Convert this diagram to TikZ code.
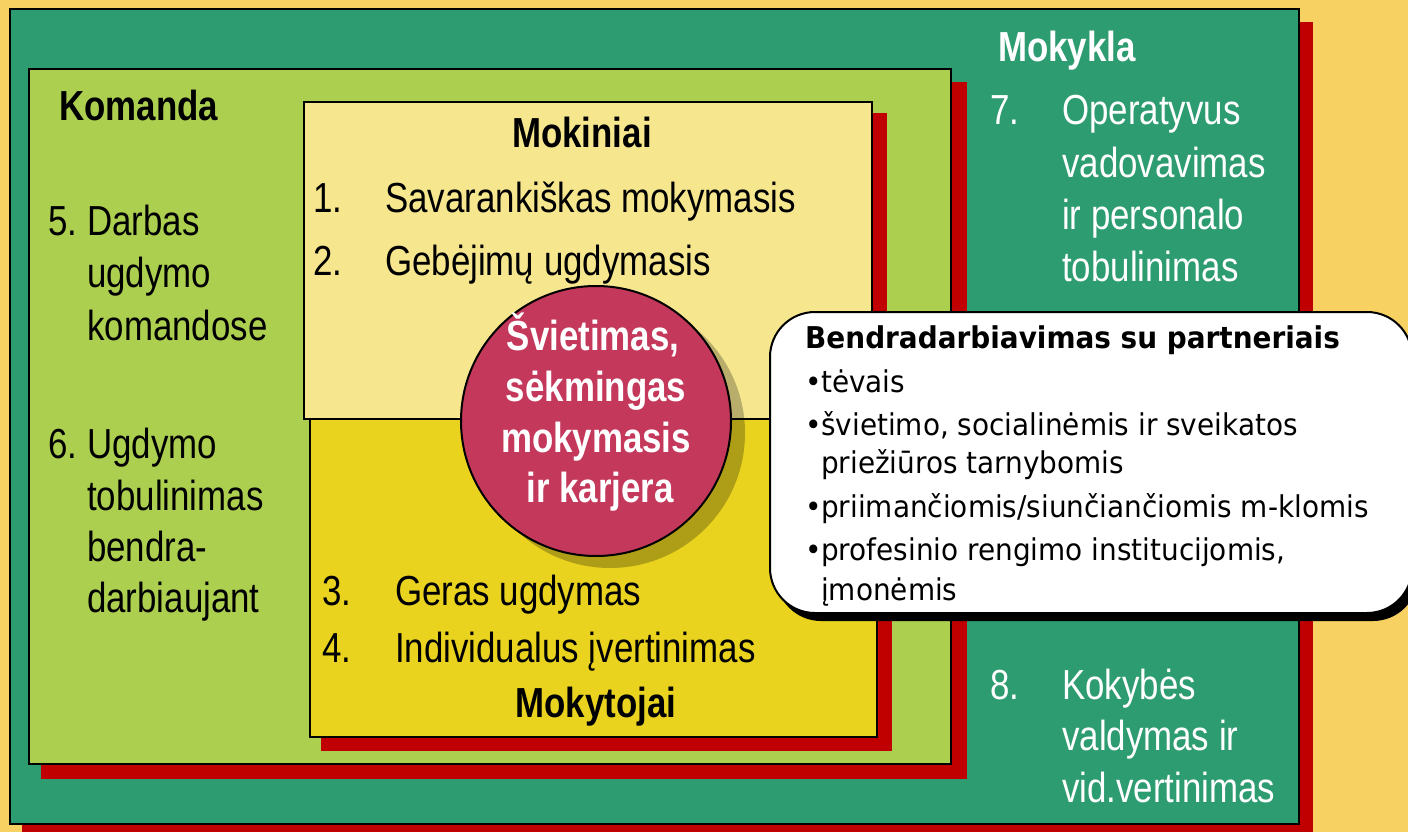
\documentclass[tikz,border=0pt]{standalone}
\usepackage{fontspec}
\setmainfont{Liberation Sans}[FakeStretch=0.83]
\newfontfamily\boxfont{DejaVu Sans}[FakeStretch=0.93]
\definecolor{bgc}{HTML}{F7D161}
\definecolor{dgreen}{HTML}{2E9C71}
\definecolor{lgreen}{HTML}{ACCF50}
\definecolor{pyellow}{HTML}{F6E78F}
\definecolor{dyellow}{HTML}{E9D31F}
\definecolor{shred}{HTML}{C00000}
\definecolor{crimson}{HTML}{C4385B}
\tikzset{
  frame/.style={draw=black, line width=2pt},
  txt/.style={anchor=base west, inner sep=0pt, font=\fontsize{42}{50}\selectfont},
  ttl/.style={anchor=base, inner sep=0pt, font=\fontsize{42}{50}\selectfont\bfseries},
  ctxt/.style={anchor=base, inner sep=0pt, text=white, font=\fontsize{42}{50}\selectfont\bfseries},
  btxt/.style={anchor=base west, inner sep=0pt, font=\boxfont\fontsize{30}{36}\selectfont},
  bttl/.style={anchor=base west, inner sep=0pt, font=\boxfont\bfseries\fontsize{30}{36}\selectfont},
}
\begin{document}
\begin{tikzpicture}[x=1pt,y=-1pt]
\useasboundingbox (0,0) rectangle (1408,832);
\fill[bgc] (0,0) rectangle (1408,832);
% Mokykla
\fill[shred] (22,22) rectangle (1313,840);
\draw[frame, fill=dgreen] (9.5,9.5) rectangle (1299,824);
% Komanda
\fill[shred] (41,82) rectangle (967,779);
\draw[frame, fill=lgreen] (29,69) rectangle (951,764);
% Mokiniai
\fill[shred] (318,113) rectangle (887,432);
\draw[frame, fill=pyellow] (304,102) rectangle (872,419);
% Mokytojai
\fill[shred] (321,432) rectangle (892,751);
\draw[frame, fill=dyellow] (310,419) rectangle (877,737);
% circle
\fill[black, opacity=0.25] (610,433) circle (135);
\draw[frame, fill=crimson] (596,421) circle (135);
% partner box
\fill[black, rounded corners=45] (776,320) rectangle (1418,621);
\draw[frame, fill=white, rounded corners=45] (770,312) rectangle (1412,613);

% texts: Mokykla
\node[txt, text=white, font=\fontsize{42}{50}\selectfont\bfseries] (mokykla) at (998,62) {Mokykla};
\node[txt, text=white] (n7) at (990,125) {7.};
\node[txt, text=white] (t7a) at (1062,125) {Operatyvus};
\node[txt, text=white] (t7b) at (1062,177) {vadovavimas};
\node[txt, text=white] (t7c) at (1062,229) {ir personalo};
\node[txt, text=white] (t7d) at (1062,281) {tobulinimas};
\node[txt, text=white] (n8) at (990,699) {8.};
\node[txt, text=white] (t8a) at (1062,699) {Kokybės};
\node[txt, text=white] (t8b) at (1062,750) {valdymas ir};
\node[txt, text=white] (t8c) at (1062,802) {vid.vertinimas};

% Komanda
\node[txt, font=\fontsize{42}{50}\selectfont\bfseries] (komanda) at (59,121) {Komanda};
\node[txt] (n5) at (48,235) {5.};
\node[txt] (t5a) at (87,235) {Darbas};
\node[txt] (t5b) at (87,287) {ugdymo};
\node[txt] (t5c) at (87,340) {komandose};
\node[txt] (n6) at (48,458) {6.};
\node[txt] (t6a) at (87,458) {Ugdymo};
\node[txt] (t6b) at (87,510) {tobulinimas};
\node[txt] (t6c) at (87,561) {bendra-};
\node[txt] (t6d) at (87,612) {darbiaujant};

% Mokiniai
\node[ttl] (mokiniai) at (582,148) {Mokiniai};
\node[txt] (n1) at (313,212) {1.};
\node[txt] (t1) at (385,212) {Savarankiškas mokymasis};
\node[txt] (n2) at (313,275) {2.};
\node[txt] (t2) at (385,275) {Gebėjimų ugdymasis};

% Mokytojai
\node[txt] (n3) at (322,605) {3.};
\node[txt] (t3) at (395,605) {Geras ugdymas};
\node[txt] (n4) at (322,662) {4.};
\node[txt] (t4) at (395,662) {Individualus įvertinimas};
\node[ttl] (mokytojai) at (596,717) {Mokytojai};

% circle text
\node[ctxt] (c1) at (593,350) {Švietimas,};
\node[ctxt] (c2) at (596,401) {sėkmingas};
\node[ctxt] (c3) at (596,452) {mokymasis};
\node[ctxt] (c4) at (600,502) {ir karjera};

% partner box text
\node[bttl] (bt) at (805,348) {Bendradarbiavimas su partneriais};
\node[btxt] (b1) at (805,392) {•};
\node[btxt] (b1t) at (821,392) {tėvais};
\node[btxt] (b2) at (805,435) {•};
\node[btxt] (b2t) at (821,435) {švietimo, socialinėmis ir sveikatos};
\node[btxt] (b2u) at (821,473) {priežiūros tarnybomis};
\node[btxt] (b3) at (805,517) {•};
\node[btxt] (b3t) at (821,517) {priimančiomis/siunčiančiomis m-klomis};
\node[btxt] (b4) at (805,560) {•};
\node[btxt] (b4t) at (821,560) {profesinio rengimo institucijomis,};
\node[btxt] (b4u) at (821,600) {įmonėmis};
\end{tikzpicture}
\end{document}
